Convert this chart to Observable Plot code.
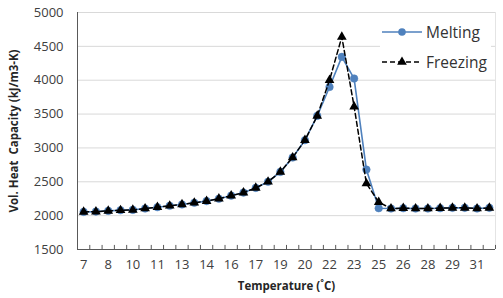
<!DOCTYPE html>
<html>
<head>
<meta charset="utf-8">
<script src="https://cdn.jsdelivr.net/npm/d3@7"></script>
<script src="https://cdn.jsdelivr.net/npm/@observablehq/plot@0.6"></script>
<style>
  html, body { margin: 0; padding: 0; background: #fff; }
  #wrap { position: relative; width: 503px; height: 298px; font-family: "Open Sans", sans-serif; }
  #legend { position: absolute; left: 380px; top: 15px; background: #fff; padding: 2px 4px 2px 2px; }
  .item { display: flex; align-items: center; height: 30px; font-size: 15.5px; color: #333; }
  .item svg { margin-right: 4px; }
</style>
</head>
<body>
<div id="wrap"><div id="legend"></div></div>
<script>
// Temperature categories (°C)
const temps = [7, 7.75, 8.5, 9.25, 10, 10.75, 11.5, 12.25, 13, 13.75, 14.5, 15.25, 16, 16.75,
  17.5, 18.25, 19, 19.75, 20.5, 21.25, 22, 22.75, 23.5, 24.25, 25, 25.75, 26.5, 27.25, 28,
  28.75, 29.5, 30.25, 31, 31.75];
// Category labels shown on the axis (every other category)
const tickLabels = ["7", "8", "10", "11", "13", "14", "16", "17", "19", "20", "22", "23", "25", "26", "28", "29", "31"];
// Volumetric heat capacity (kJ/m3-K)
const melting = [2055, 2060, 2070, 2080, 2085, 2105, 2125, 2145, 2165, 2190, 2215, 2250, 2295, 2340,
  2410, 2500, 2646, 2858, 3114, 3473, 3900, 4344, 4025, 2680, 2110, 2105, 2110, 2105, 2105,
  2110, 2115, 2115, 2105, 2115];
const freezing = [2055, 2060, 2070, 2080, 2085, 2105, 2125, 2145, 2165, 2190, 2215, 2250, 2295, 2340,
  2410, 2500, 2646, 2858, 3114, 3473, 4000, 4640, 3610, 2475, 2200, 2105, 2110, 2105, 2105,
  2110, 2115, 2115, 2105, 2115];
const yTicks = [1500, 2000, 2500, 3000, 3500, 4000, 4500, 5000];

const blue = "#4F81BD";
const melt = temps.map((t, i) => ({i, t, v: melting[i]}));
const frz = temps.map((t, i) => ({i, t, v: freezing[i]}));
const labelIdx = tickLabels.map((_, k) => k * 2);
const bounds = d3.range(temps.length + 1).map(k => k - 0.5);

const chart = Plot.plot({
  width: 503,
  height: 298,
  marginLeft: 77,
  marginRight: 8,
  marginTop: 12,
  marginBottom: 49,
  style: {fontFamily: "'Open Sans', sans-serif", fontSize: "13px", color: "#404040", background: "#fff"},
  x: {type: "linear", domain: [-0.5, temps.length - 0.5]},
  y: {domain: [1500, 5000]},
  marks: [
    Plot.gridY(yTicks, {stroke: "#d9d9d9", strokeOpacity: 1, strokeWidth: 1}),
    Plot.ruleX([temps.length - 0.5], {stroke: "#e4e4e4"}),
    Plot.axisY(yTicks, {tickSize: 0, tickPadding: 14, fontSize: 13, fill: "#404040",
      tickFormat: d => String(d),
      label: "Vol. Heat  Capacity (kJ/m3-K)", labelAnchor: "center", labelArrow: false, labelOffset: 68}),
    Plot.axisX(labelIdx, {tickSize: 0, tickPadding: 10, fontSize: 13, fill: "#404040",
      tickFormat: (d, k) => tickLabels[k],
      label: "Temperature (˚C)", labelAnchor: "center", labelArrow: false, labelOffset: 40}),
    Plot.ruleX(bounds, {y1: 1500, y2: 1560, stroke: "#595959", strokeWidth: 1}),
    Plot.ruleX([-0.5], {stroke: "#595959", strokeWidth: 1}),
    Plot.ruleY([1500], {stroke: "#595959", strokeWidth: 1}),
    Plot.line(melt, {x: "i", y: "v", stroke: blue, strokeWidth: 1.6}),
    Plot.dot(melt, {x: "i", y: "v", r: 3.8, fill: blue, stroke: blue, strokeWidth: 0.5}),
    Plot.line(frz, {x: "i", y: "v", stroke: "#000", strokeWidth: 1.5, strokeDasharray: "5,3"}),
    Plot.dot(frz, {x: "i", y: "v", symbol: "triangle", r: 3.6, fill: "#000"})
  ]
});
d3.select(chart).selectAll("g[aria-label='y-axis label'] text, g[aria-label='x-axis label'] text")
  .attr("font-weight", "bold").attr("font-size", "11.5px").attr("fill", "#262626");
document.getElementById("wrap").prepend(chart);

// Legend
const legend = d3.select("#legend");
const items = [
  {name: "Melting", stroke: blue, dash: null, symbol: d3.symbolCircle, size: Math.PI * 3.8 * 3.8, fill: blue},
  {name: "Freezing", stroke: "#000", dash: "5,3", symbol: d3.symbolTriangle, size: Math.PI * 3.6 * 3.6, fill: "#000"}
];
for (const it of items) {
  const row = legend.append("div").attr("class", "item");
  const s = row.append("svg").attr("width", 40).attr("height", 14);
  s.append("line").attr("x1", 0).attr("x2", 40).attr("y1", 7).attr("y2", 7)
    .attr("stroke", it.stroke).attr("stroke-width", 1.6).attr("stroke-dasharray", it.dash);
  s.append("path").attr("transform", "translate(20,7)")
    .attr("d", d3.symbol(it.symbol, it.size)()).attr("fill", it.fill);
  row.append("span").text(it.name);
}
</script>
</body>
</html>
